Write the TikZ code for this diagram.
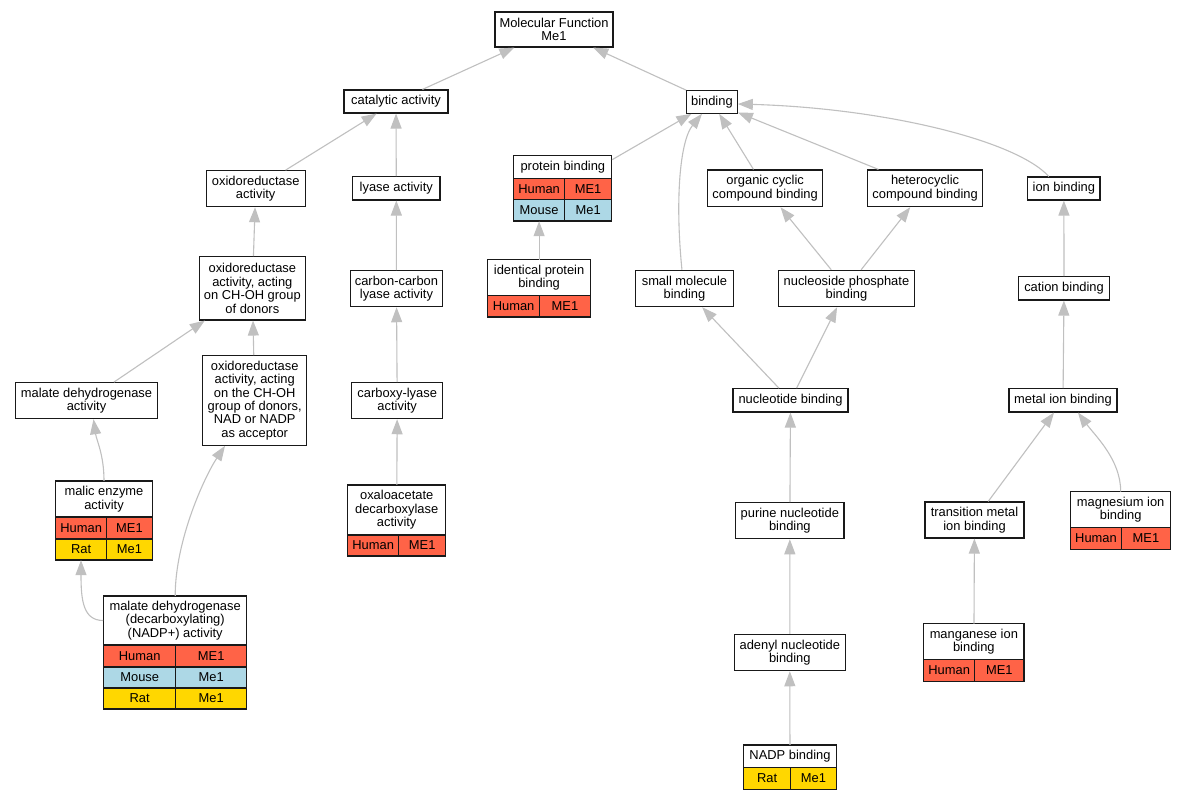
\documentclass[tikz,border=0pt]{standalone}
\usepackage{fontspec}
\setmainfont{Liberation Sans}
\usetikzlibrary{arrows.meta}
\definecolor{human}{RGB}{255,99,71}
\definecolor{mouse}{RGB}{173,216,230}
\definecolor{rat}{RGB}{255,215,0}
\definecolor{edgegray}{RGB}{192,192,192}
\definecolor{boxline}{RGB}{25,25,25}
\newcommand\bx[6]{\node[box, minimum width={(#4)-(#2)}, minimum height={(#5)-(#3)}] (#1) at ({((#2)+(#4))/2},{((#3)+(#5))/2}) {#6};}
\newcommand\tframe[5]{\node[tframest, minimum width={(#4)-(#2)}, minimum height={(#5)-(#3)}] (#1) at ({((#2)+(#4))/2},{((#3)+(#5))/2}) {};}
\newcommand\tcell[7]{\node[box, fill=#6, minimum width={(#4)-(#2)}, minimum height={(#5)-(#3)}] (#1) at ({((#2)+(#4))/2},{((#3)+(#5))/2}) {#7};}
\begin{document}
\begin{tikzpicture}[x=1pt,y=-1pt,
  box/.style={draw=boxline, line width=1.1pt, fill=white, inner sep=0pt, align=center,
    font=\fontsize{12.9}{13.4}\selectfont},
  tframest/.style={inner sep=0pt, draw=none},
  edge/.style={draw=edgegray, line width=1.1pt, -{Triangle[length=15pt,width=11pt]}}]
\useasboundingbox[fill=white] (0,0) rectangle (1187,800);

% plain nodes
\bx{mf}{495}{12}{613}{47}{Molecular Function\\Me1}
\bx{cat}{344}{90}{448}{113}{catalytic activity}
\bx{bind}{686.5}{90.7}{737.3}{113.3}{binding}
\bx{oxa}{206.3}{170.7}{305.1}{206.7}{oxidoreductase\\activity}
\bx{lya}{352.6}{176.7}{440}{200}{lyase activity}
\bx{occ}{707.5}{170}{822.8}{206.7}{organic cyclic\\compound binding}
\bx{hcc}{867.4}{170}{982.8}{206.7}{heterocyclic\\compound binding}
\bx{ion}{1027.7}{177}{1100}{200}{ion binding}
\bx{oxch}{199.6}{256.7}{305.1}{320}{oxidoreductase\\activity, acting\\on CH-OH group\\of donors}
\bx{ccl}{350.2}{270.7}{442.7}{306.7}{carbon-carbon\\lyase activity}
\bx{smb}{635.6}{270.3}{733.3}{306.7}{small molecule\\binding}
\bx{npb}{778.3}{270.3}{914.6}{306.7}{nucleoside phosphate\\binding}
\bx{cab}{1018.7}{276.7}{1109.4}{300}{cation binding}
\bx{mda}{15.7}{382.7}{157.3}{418.7}{malate dehydrogenase\\activity}
\bx{oxacc}{202.7}{355.7}{306.7}{445.3}{oxidoreductase\\activity, acting\\on the CH-OH\\group of donors,\\NAD or NADP\\as acceptor}
\bx{cxl}{351.7}{382.7}{442.7}{418.7}{carboxy-lyase\\activity}
\bx{ntb}{733}{388.7}{848}{412}{nucleotide binding}
\bx{mib}{1009}{388.7}{1117}{412}{metal ion binding}
\bx{pnb}{735.7}{502.7}{844}{538.7}{purine nucleotide\\binding}
\bx{tmb}{925}{502}{1024}{538}{transition metal\\ion binding}
\bx{anb}{734.3}{634.3}{845.3}{670.7}{adenyl nucleotide\\binding}

% tables
\tframe{pb}{513.8}{155.3}{611.9}{221}
\tcell{pb-h}{513.8}{155.3}{611.9}{178.3}{white}{protein binding}
\tcell{pb-1a}{513.8}{178.3}{564.4}{199.3}{human}{Human}
\tcell{pb-1b}{564.4}{178.3}{611.9}{199.3}{human}{ME1}
\tcell{pb-2a}{513.8}{199.3}{564.4}{221}{mouse}{Mouse}
\tcell{pb-2b}{564.4}{199.3}{611.9}{221}{mouse}{Me1}

\tframe{ipb}{487.7}{259.7}{590.5}{317}
\tcell{ipb-h}{487.7}{259.7}{590.5}{295.3}{white}{identical protein\\binding}
\tcell{ipb-1a}{487.7}{295.3}{539.5}{317}{human}{Human}
\tcell{ipb-1b}{539.5}{295.3}{590.5}{317}{human}{ME1}

\tframe{me}{55.7}{481}{152.3}{560}
\tcell{me-h}{55.7}{481}{152.3}{517}{white}{malic enzyme\\activity}
\tcell{me-1a}{55.7}{517}{106.7}{539}{human}{Human}
\tcell{me-1b}{106.7}{517}{152.3}{539}{human}{ME1}
\tcell{me-2a}{55.7}{539}{106.7}{560}{rat}{Rat}
\tcell{me-2b}{106.7}{539}{152.3}{560}{rat}{Me1}

\tframe{oaa}{347.7}{485}{445.7}{556}
\tcell{oaa-h}{347.7}{485}{445.7}{535}{white}{oxaloacetate\\decarboxylase\\activity}
\tcell{oaa-1a}{347.7}{535}{398.7}{556}{human}{Human}
\tcell{oaa-1b}{398.7}{535}{445.7}{556}{human}{ME1}

\tframe{mg}{1070.7}{491.7}{1170.7}{549.3}
\tcell{mg-h}{1070.7}{491.7}{1170.7}{527.3}{white}{magnesium ion\\binding}
\tcell{mg-1a}{1070.7}{527.3}{1121.3}{549.3}{human}{Human}
\tcell{mg-1b}{1121.3}{527.3}{1170.7}{549.3}{human}{ME1}

\tframe{mdd}{103.7}{596}{246.7}{709}
\tcell{mdd-h}{103.7}{596}{246.7}{645}{white}{malate dehydrogenase\\(decarboxylating)\\(NADP+) activity}
\tcell{mdd-1a}{103.7}{645}{175.7}{667}{human}{Human}
\tcell{mdd-1b}{175.7}{645}{246.7}{667}{human}{ME1}
\tcell{mdd-2a}{103.7}{667}{175.7}{688}{mouse}{Mouse}
\tcell{mdd-2b}{175.7}{667}{246.7}{688}{mouse}{Me1}
\tcell{mdd-3a}{103.7}{688}{175.7}{709}{rat}{Rat}
\tcell{mdd-3b}{175.7}{688}{246.7}{709}{rat}{Me1}

\tframe{mn}{923.7}{623.7}{1024}{681.3}
\tcell{mn-h}{923.7}{623.7}{1024}{659.7}{white}{manganese ion\\binding}
\tcell{mn-1a}{923.7}{659.7}{974.7}{681.3}{human}{Human}
\tcell{mn-1b}{974.7}{659.7}{1024}{681.3}{human}{ME1}

\tframe{nadp}{743.7}{745}{836.3}{789.3}
\tcell{nadp-h}{743.7}{745}{836.3}{767.7}{white}{NADP binding}
\tcell{nadp-1a}{743.7}{767.7}{790.7}{789.3}{rat}{Rat}
\tcell{nadp-1b}{790.7}{767.7}{836.3}{789.3}{rat}{Me1}

% edges
\draw[edge] (cat) -- (mf);
\draw[edge] (bind) -- (mf);
\draw[edge] (oxa) -- (cat);
\draw[edge] (lya) -- (cat);
\draw[edge] (pb) -- (bind);
\draw[edge] ([xshift=-2.5pt]smb.north) .. controls +(-7,-70) and +(-22,27) .. ([xshift=-10pt]bind.south);
\draw[edge] (occ) -- (bind);
\draw[edge] (hcc) -- (bind);
\draw[edge] ([xshift=-15pt]ion.north) .. controls +(-34,-37) and +(143,4) .. ([yshift=-2pt]bind.east);
\draw[edge] (oxch) -- (oxa);
\draw[edge] (ccl) -- (lya);
\draw[edge] (ipb.north) -- (ipb.north |- pb.south);
\draw[edge] (npb) -- (occ);
\draw[edge] (npb) -- (hcc);
\draw[edge] (cab) -- (ion);
\draw[edge] (mda) -- (oxch);
\draw[edge] (oxacc) -- (oxch);
\draw[edge] (cxl) -- (ccl);
\draw[edge] (ntb) -- (smb);
\draw[edge] (ntb) -- (npb);
\draw[edge] (mib) -- (cab);
\draw[edge] (me.north) .. controls +(0,-26) and +(3,21) .. ([xshift=7pt]mda.south);
\draw[edge] (oaa) -- (cxl);
\draw[edge] (pnb) -- (ntb);
\draw[edge] (tmb) -- (mib);
\draw[edge] (mg.north) .. controls +(0,-32) and +(17,23) .. ([xshift=15pt]mib.south);
\draw[edge] (mdd-h.west) .. controls +(-20,0) and +(0,40) .. ([xshift=-23pt]me.south);
\draw[edge] (mdd.north) .. controls +(0,-56) and +(-20,30) .. ([xshift=-29.7pt]oxacc.south);
\draw[edge] (anb) -- (pnb);
\draw[edge] (mn) -- (tmb);
\draw[edge] (nadp) -- (anb);
\end{tikzpicture}
\end{document}
